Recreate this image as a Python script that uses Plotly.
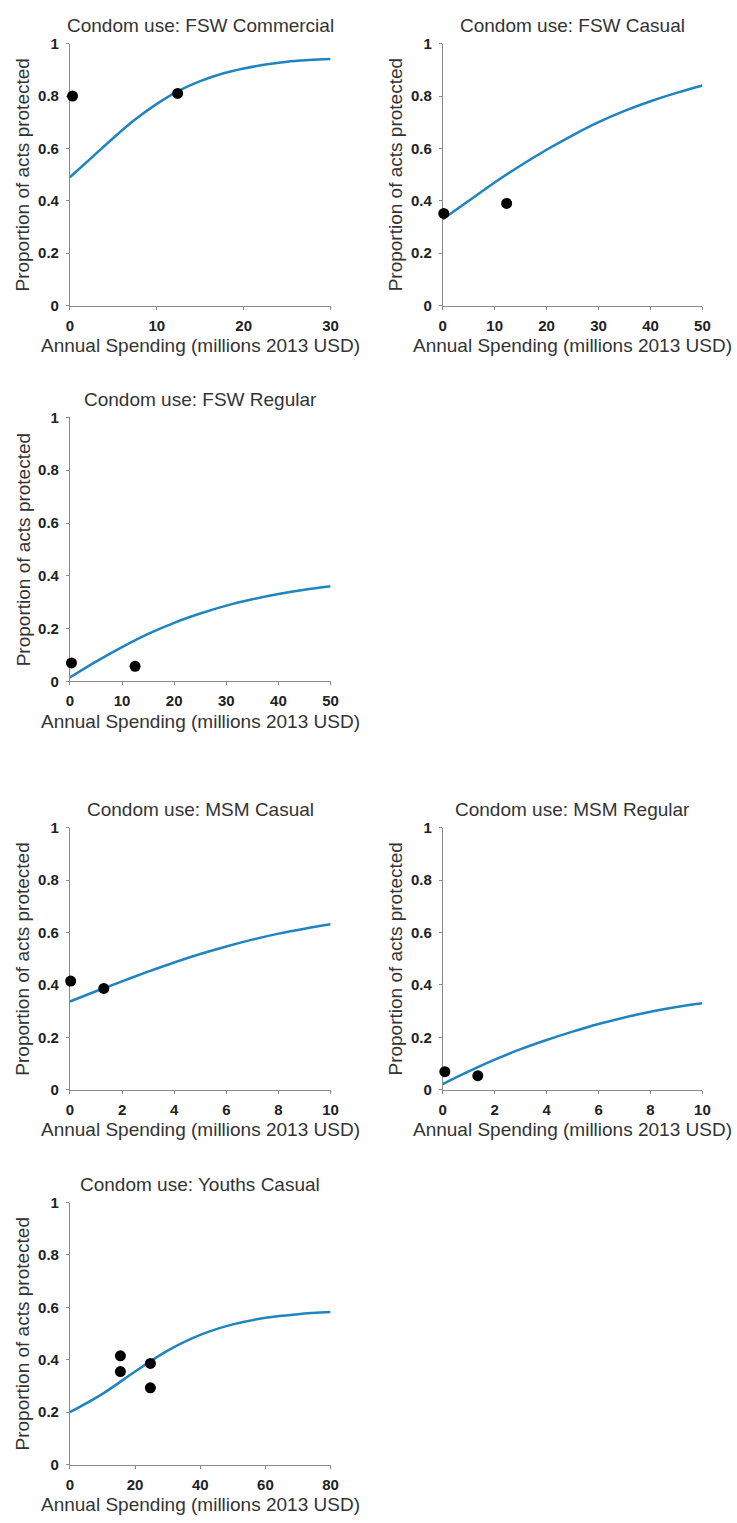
import plotly.graph_objects as go

# Panel titles
titles = [
    "Condom use: FSW Commercial",
    "Condom use: FSW Casual",
    "Condom use: FSW Regular",
    "Condom use: MSM Casual",
    "Condom use: MSM Regular",
    "Condom use: Youths Casual",
]

# Fitted spending-outcome curves
curve_x_fsw_com = [0, 2.5, 5, 7.5, 10, 12.5, 15, 17.5, 20, 22.5, 25, 27.5, 30]
curve_y_fsw_com = [0.49, 0.565, 0.64, 0.71, 0.77, 0.82, 0.857, 0.885, 0.905, 0.92, 0.931, 0.937, 0.941]

curve_x_fsw_cas = [0, 5, 10, 15, 20, 25, 30, 35, 40, 45, 50]
curve_y_fsw_cas = [0.33, 0.40, 0.47, 0.535, 0.595, 0.65, 0.70, 0.743, 0.78, 0.812, 0.84]

curve_x_fsw_reg = [0, 5, 10, 15, 20, 25, 30, 35, 40, 45, 50]
curve_y_fsw_reg = [0.015, 0.075, 0.13, 0.18, 0.222, 0.257, 0.287, 0.311, 0.331, 0.347, 0.36]

curve_x_msm_cas = [0, 1, 2, 3, 4, 5, 6, 7, 8, 9, 10]
curve_y_msm_cas = [0.337, 0.376, 0.414, 0.451, 0.486, 0.518, 0.547, 0.573, 0.596, 0.615, 0.632]

curve_x_msm_reg = [0, 1, 2, 3, 4, 5, 6, 7, 8, 9, 10]
curve_y_msm_reg = [0.022, 0.07, 0.115, 0.155, 0.19, 0.222, 0.251, 0.276, 0.298, 0.316, 0.33]

curve_x_youth = [0, 10, 20, 30, 40, 50, 60, 70, 80]
curve_y_youth = [0.20, 0.27, 0.355, 0.435, 0.495, 0.535, 0.56, 0.574, 0.582]

# Observed data points
obs_x_fsw_com = [0.3, 12.4]
obs_y_fsw_com = [0.80, 0.81]
obs_x_fsw_cas = [0.2, 12.3]
obs_y_fsw_cas = [0.352, 0.39]
obs_x_fsw_reg = [0.3, 12.5]
obs_y_fsw_reg = [0.07, 0.057]
obs_x_msm_cas = [0.03, 1.3]
obs_y_msm_cas = [0.415, 0.387]
obs_x_msm_reg = [0.08, 1.35]
obs_y_msm_reg = [0.069, 0.054]
obs_x_youth = [15.5, 15.5, 24.7, 24.7]
obs_y_youth = [0.415, 0.355, 0.386, 0.293]

# Axis ranges and tick spacing
x_max = [30, 50, 50, 10, 10, 80]
x_dtick = [10, 10, 10, 2, 2, 20]

curves_x = [curve_x_fsw_com, curve_x_fsw_cas, curve_x_fsw_reg, curve_x_msm_cas, curve_x_msm_reg, curve_x_youth]
curves_y = [curve_y_fsw_com, curve_y_fsw_cas, curve_y_fsw_reg, curve_y_msm_cas, curve_y_msm_reg, curve_y_youth]
obs_x = [obs_x_fsw_com, obs_x_fsw_cas, obs_x_fsw_reg, obs_x_msm_cas, obs_x_msm_reg, obs_x_youth]
obs_y = [obs_y_fsw_com, obs_y_fsw_cas, obs_y_fsw_reg, obs_y_msm_cas, obs_y_msm_reg, obs_y_youth]

W, H = 737, 1523
# Plot-area boxes in pixels: (left, right, top, bottom)
boxes = [
    (67, 332, 35, 300),
    (446, 710, 35, 300),
    (67, 332, 413, 680),
    (67, 332, 828, 1093),
    (446, 710, 828, 1093),
    (67, 332, 1207, 1472),
]

FONT = "Arial, Liberation Sans, sans-serif"
LINE_COLOR = "#1f84c0"
AXIS_COLOR = "#8a8a8a"

fig = go.Figure()
layout = dict(
    width=W, height=H,
    margin=dict(l=0, r=0, t=0, b=0),
    paper_bgcolor="white", plot_bgcolor="white",
    showlegend=False,
    font=dict(family=FONT, color="#333333"),
)
annotations = []

for i in range(6):
    n = "" if i == 0 else str(i + 1)
    xa, ya = "x" + n, "y" + n
    l, r, t, b = boxes[i]
    layout["xaxis" + n] = dict(
        domain=[l / W, r / W], anchor=ya, range=[0, x_max[i]], dtick=x_dtick[i],
        showgrid=False, zeroline=False, showline=True, linecolor=AXIS_COLOR, linewidth=1,
        ticks="outside", ticklen=3, tickcolor=AXIS_COLOR, ticklabelstandoff=3,
        tickfont=dict(family=FONT, size=15, color="#222222", weight="bold"),
        layer="below traces", fixedrange=True,
    )
    layout["yaxis" + n] = dict(
        domain=[1 - b / H, 1 - t / H], anchor=xa, range=[0, 1], dtick=0.2,
        showgrid=False, zeroline=False, showline=True, linecolor=AXIS_COLOR, linewidth=1,
        ticks="outside", ticklen=3, tickcolor=AXIS_COLOR, ticklabelstandoff=4,
        tickfont=dict(family=FONT, size=15, color="#222222", weight="bold"),
        layer="below traces", fixedrange=True,
    )
    fig.add_trace(go.Scatter(
        x=curves_x[i], y=curves_y[i], mode="lines", xaxis=xa, yaxis=ya,
        line=dict(color=LINE_COLOR, width=2.5, shape="spline", smoothing=1.0),
        hoverinfo="skip",
    ))
    fig.add_trace(go.Scatter(
        x=obs_x[i], y=obs_y[i], mode="markers", xaxis=xa, yaxis=ya,
        marker=dict(color="black", size=11), cliponaxis=False,
    ))
    # Panel title
    annotations.append(dict(
        text=titles[i], xref=xa + " domain", yref=ya + " domain", x=0.5, y=1,
        yshift=18, xanchor="center", yanchor="middle", showarrow=False,
        font=dict(family=FONT, size=19, color="#333333"),
    ))
    # X axis title
    annotations.append(dict(
        text="Annual Spending (millions 2013 USD)", xref=xa + " domain", yref=ya + " domain",
        x=0.5, y=0, yshift=-40, xanchor="center", yanchor="middle", showarrow=False,
        font=dict(family=FONT, size=19, color="#333333"),
    ))
    # Y axis title
    annotations.append(dict(
        text="Proportion of acts protected", xref=xa + " domain", yref=ya + " domain",
        x=0, y=0.5, xshift=-47, textangle=-90, xanchor="center", yanchor="middle",
        showarrow=False, font=dict(family=FONT, size=19, color="#333333"),
    ))

layout["annotations"] = annotations
fig.update_layout(**layout)
# Place the figure flush with the page edges
fig.write_html(
    "out.html",
    post_script="document.body.style.margin='0';document.body.style.padding='0';",
)
